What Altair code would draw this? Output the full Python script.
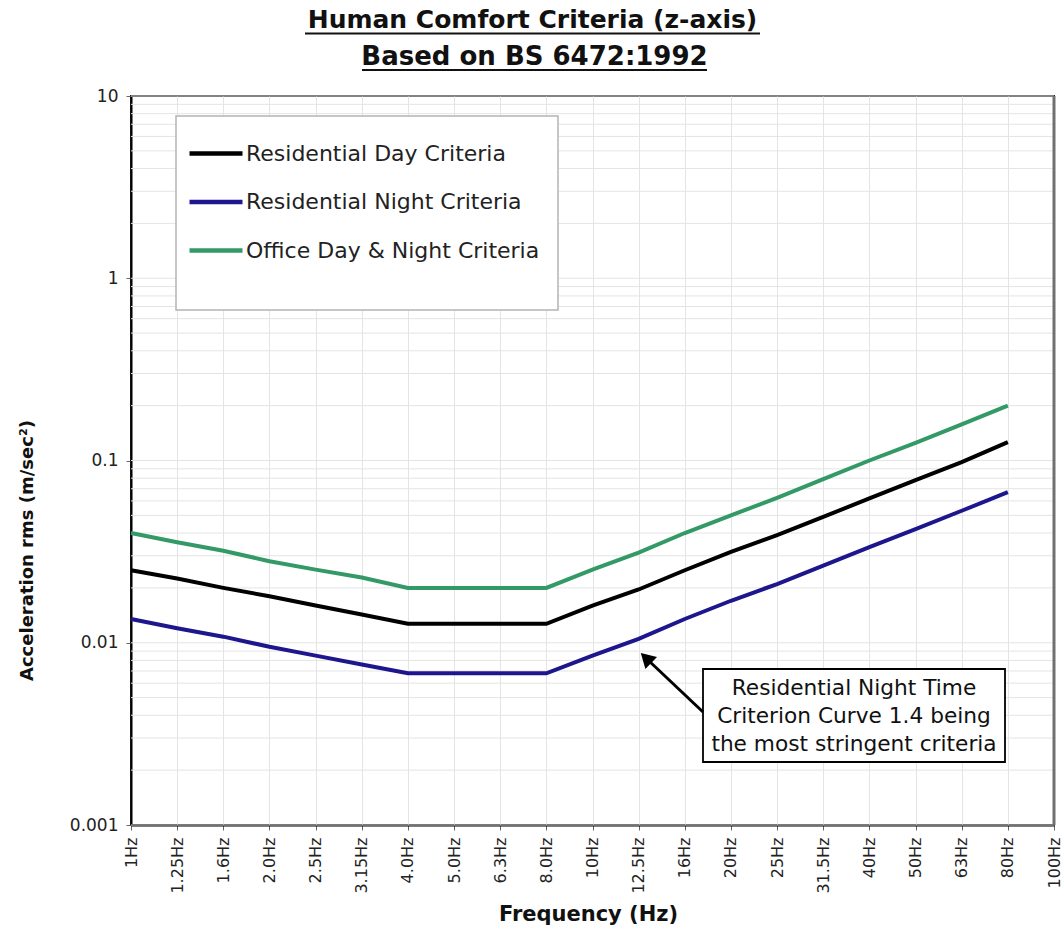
import altair as alt
import pandas as pd

# Frequency bands (one-third octave centres) shown on the x axis
freq_labels = ["1Hz", "1.25Hz", "1.6Hz", "2.0Hz", "2.5Hz", "3.15Hz", "4.0Hz", "5.0Hz",
               "6.3Hz", "8.0Hz", "10Hz", "12.5Hz", "16Hz", "20Hz", "25Hz", "31.5Hz",
               "40Hz", "50Hz", "63Hz", "80Hz", "100Hz"]

# Criteria curves, acceleration rms (m/s^2), 1Hz .. 80Hz
res_day = [0.025, 0.0225, 0.02, 0.018, 0.016, 0.0143, 0.0127, 0.0127, 0.0127, 0.0127,
           0.016, 0.0196, 0.025, 0.0315, 0.039, 0.049, 0.062, 0.078, 0.098, 0.126]
res_night = [0.0135, 0.012, 0.0108, 0.0095, 0.0085, 0.0076, 0.0068, 0.0068, 0.0068, 0.0068,
             0.0085, 0.0105, 0.0135, 0.017, 0.021, 0.0265, 0.0335, 0.042, 0.053, 0.067]
office = [0.04, 0.0356, 0.032, 0.028, 0.0252, 0.0228, 0.02, 0.02, 0.02, 0.02,
          0.0252, 0.0312, 0.04, 0.05, 0.0624, 0.079, 0.1, 0.125, 0.158, 0.2]

series_names = ["Residential Day Criteria", "Residential Night Criteria", "Office Day & Night Criteria"]
series_colors = ["#000000", "#1e168c", "#339966"]

# Log-axis labels and the minor grid lines between them
y_decades = [0.001, 0.01, 0.1, 1, 10]
y_grid = [m * d for d in [0.001, 0.01, 0.1, 1] for m in range(1, 10)] + [10]

title_lines = ["Human Comfort Criteria (z-axis)", "Based on BS 6472:1992"]
note_lines = ["Residential Night Time", "Criterion Curve 1.4 being", "the most stringent criteria"]

FONT = "DejaVu Sans"
W, H = 923, 729

rows = []
for name, vals in zip(series_names, [res_day, res_night, office]):
    for f, v in zip(freq_labels, vals):
        rows.append({"freq": f, "value": v, "series": name})
df = pd.DataFrame(rows)
grid_df = pd.DataFrame({"value": y_grid})
one = pd.DataFrame({"k": [0]})

y_scale = alt.Scale(type="log", domain=[0.001, 10], nice=False)
y_axis = alt.Axis(values=y_decades, format="~g", grid=False,
                  labelFont=FONT, labelFontSize=17, labelColor="#222", labelPadding=8,
                  tickSize=5, tickColor="#666", domainColor="#000", domainWidth=2,
                  title="Acceleration rms (m/sec²)", titleFont=FONT, titleFontSize=18,
                  titleFontWeight="bold", titleColor="#111", titleAngle=270,
                  titleX=-104, titleY=454, titleAlign="center", titleBaseline="middle")

grid = alt.Chart(grid_df).mark_rule(color="#e4e4e4", strokeWidth=1).encode(
    y=alt.Y("value:Q", scale=y_scale, axis=y_axis)
)

legend_box = alt.Chart(one).mark_rect(fill="white", stroke="#b4b4b4", strokeWidth=1.5).encode(
    x=alt.value(45), x2=alt.value(427), y=alt.value(20), y2=alt.value(214)
)

lines = alt.Chart(df).mark_line(strokeWidth=4).encode(
    x=alt.X("freq:O", sort=freq_labels,
            scale=alt.Scale(type="point", domain=freq_labels, padding=0),
            axis=alt.Axis(labelAngle=270, labelAlign="right", labelBaseline="middle",
                          labelFont=FONT, labelFontSize=16, labelColor="#222",
                          labelPadding=7, labelOverlap=False,
                          tickSize=5, tickColor="#666", domainColor="#000", domainWidth=2,
                          grid=True, gridColor="#e4e4e4",
                          title="Frequency (Hz)", titleFont=FONT, titleFontSize=21,
                          titleFontWeight="bold", titleColor="#111",
                          titleX=457, titleY=95, titleBaseline="alphabetic")),
    y=alt.Y("value:Q", scale=y_scale, axis=y_axis),
    color=alt.Color("series:N", sort=series_names,
                    scale=alt.Scale(domain=series_names, range=series_colors),
                    legend=alt.Legend(orient="none", legendX=56, legendY=28.5, title=None,
                                      symbolType="stroke", symbolSize=2809,
                                      symbolStrokeWidth=4.5, labelFont=FONT,
                                      labelFontSize=22, labelColor="#222", labelOffset=1,
                                      rowPadding=8.5, padding=0, labelLimit=400)),
    detail="series:N",
)

# Darker right-hand edge of the plot frame
right_edge = alt.Chart(one).mark_rule(color="#707070", strokeWidth=3).encode(
    x=alt.value(W), y=alt.value(0), y2=alt.value(H)
)

# Callout box with arrow pointing at the night curve
note_box = alt.Chart(one).mark_rect(fill="white", stroke="#000", strokeWidth=1.8).encode(
    x=alt.value(572), x2=alt.value(874), y=alt.value(573), y2=alt.value(666)
)
note_text = alt.Chart(one).mark_text(font=FONT, fontSize=21.7, color="#111", align="center",
                                     baseline="middle", lineHeight=28).encode(
    x=alt.value(723), y=alt.value(592), text=alt.value(note_lines)
)
arrow_shaft = alt.Chart(one).mark_rule(color="#000", strokeWidth=3).encode(
    x=alt.value(572), y=alt.value(616), x2=alt.value(517), y2=alt.value(564)
)
arrow_head = alt.Chart(one).mark_point(shape="triangle-up", filled=True, color="#000",
                                       size=280, angle=314, opacity=1).encode(
    x=alt.value(515), y=alt.value(562)
)

# Two-line underlined heading
title1 = alt.Chart(one).mark_text(font=FONT, fontSize=25, fontWeight="bold", color="#111",
                                  align="center", baseline="alphabetic").encode(
    x=alt.value(401.5), y=alt.value(-68), text=alt.value(title_lines[0])
)
title2 = alt.Chart(one).mark_text(font=FONT, fontSize=26, fontWeight="bold", color="#111",
                                  align="center", baseline="alphabetic").encode(
    x=alt.value(403.5), y=alt.value(-31), text=alt.value(title_lines[1])
)
under1 = alt.Chart(one).mark_rule(color="#111", strokeWidth=2).encode(
    x=alt.value(174), x2=alt.value(629), y=alt.value(-62.5), y2=alt.value(-62.5)
)
under2 = alt.Chart(one).mark_rule(color="#111", strokeWidth=2).encode(
    x=alt.value(231), x2=alt.value(576), y=alt.value(-26), y2=alt.value(-26)
)

chart = alt.layer(
    grid, legend_box, lines, right_edge, note_box, note_text, arrow_shaft, arrow_head,
    title1, title2, under1, under2
).properties(
    width=W, height=H,
    autosize=alt.AutoSizeParams(type="none"),
    padding={"left": 131, "top": 96, "right": 8, "bottom": 104},
    background="white",
).configure_view(
    stroke="#222", strokeWidth=2
)

chart.save("out.html", embed_options={"renderer": "svg", "actions": False})
